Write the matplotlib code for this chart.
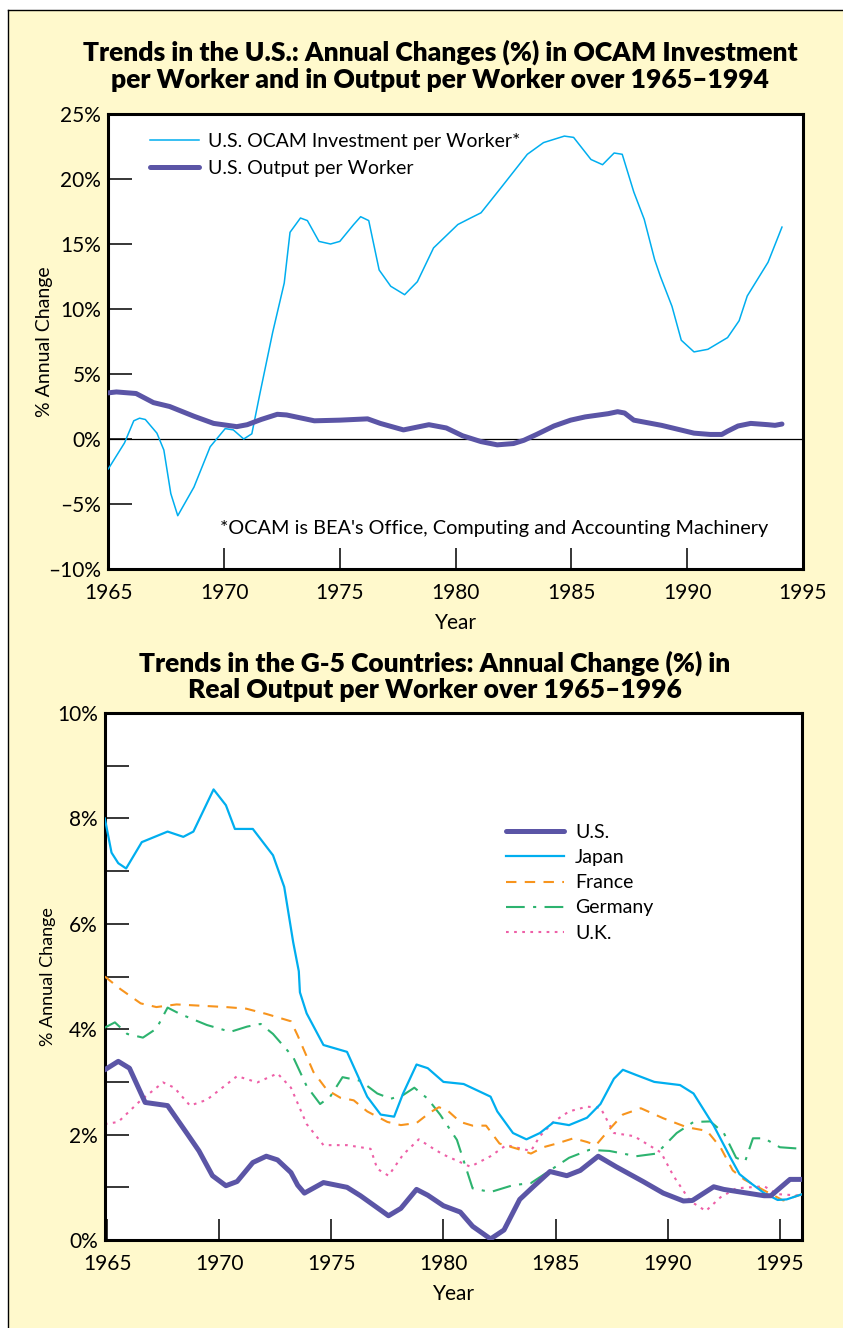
import matplotlib
matplotlib.use('Agg')
import matplotlib.pyplot as plt
from matplotlib.patches import Rectangle
from matplotlib.lines import Line2D

plt.rcParams['font.family'] = ['Lato', 'DejaVu Sans']

# ── Top chart data: U.S. annual changes (%) ───────────────────────────────────
ocam_years = [1965.0, 1965.7, 1966.1, 1966.35, 1966.6, 1967.1, 1967.4, 1967.7,
              1968.0, 1968.7, 1969.4, 1970.05, 1970.4, 1970.85, 1971.2, 1971.55,
              1972.1, 1972.6, 1972.85, 1973.3, 1973.6, 1974.1, 1974.6, 1975.0,
              1975.6, 1975.9, 1976.25, 1976.7, 1977.2, 1977.8, 1978.35, 1979.05,
              1980.1, 1980.65, 1981.1, 1981.95, 1983.1, 1983.8, 1984.7, 1985.1,
              1985.85, 1986.35, 1986.85, 1987.2, 1987.7, 1988.15, 1988.6, 1988.85,
              1989.35, 1989.75, 1990.3, 1990.9, 1991.75, 1992.25, 1992.6, 1993.5,
              1994.1]
ocam_vals = [-2.3, -0.3, 1.4, 1.6, 1.5, 0.45, -0.85, -4.2,
             -5.9, -3.7, -0.6, 0.8, 0.7, 0.0, 0.4, 3.5,
             8.2, 12.0, 15.9, 17.0, 16.8, 15.2, 15.0, 15.2,
             16.5, 17.1, 16.8, 13.0, 11.75, 11.1, 12.1, 14.7,
             16.5, 17.0, 17.4, 19.3, 21.9, 22.8, 23.3, 23.2,
             21.5, 21.1, 22.0, 21.9, 19.0, 16.9, 13.8, 12.5,
             10.2, 7.6, 6.7, 6.9, 7.8, 9.1, 11.0, 13.6,
             16.3]

output_years = [1965.0, 1965.35, 1966.2, 1966.95, 1967.65, 1968.7, 1969.55, 1970.55,
                1971.0, 1971.6, 1972.3, 1972.7, 1973.9, 1975.0, 1976.2, 1976.75,
                1977.75, 1978.85, 1979.6, 1980.3, 1981.1, 1981.8, 1982.5, 1982.95,
                1983.5, 1984.25, 1984.97, 1985.6, 1986.2, 1986.6, 1987.0, 1987.3,
                1987.7, 1988.9, 1990.3, 1991.0, 1991.5, 1991.75, 1992.2, 1992.75,
                1993.5, 1993.8, 1994.1]
output_vals = [3.55, 3.62, 3.5, 2.8, 2.5, 1.75, 1.2, 0.95,
               1.1, 1.5, 1.9, 1.85, 1.4, 1.45, 1.55, 1.2,
               0.7, 1.1, 0.85, 0.25, -0.2, -0.45, -0.35, -0.1,
               0.35, 1.0, 1.45, 1.7, 1.85, 1.95, 2.1, 2.0,
               1.45, 1.05, 0.45, 0.35, 0.35, 0.6, 1.0, 1.2,
               1.1, 1.05, 1.15]

top_yticks = [-10, -5, 0, 5, 10, 15, 20, 25]
top_ylabels = ['\u201310%', '\u20135%', '0%', '5%', '10%', '15%', '20%', '25%']
top_xticks = [1965, 1970, 1975, 1980, 1985, 1990, 1995]

# ── Bottom chart data: G-5 real output per worker (%) ─────────────────────────
us_years = [1964.9, 1965.5, 1966.0, 1966.7, 1967.7, 1968.6, 1969.1, 1969.7,
            1970.3, 1970.8, 1971.5, 1972.1, 1972.6, 1973.2, 1973.5, 1973.8,
            1974.65, 1975.7, 1976.3, 1977.55, 1978.1, 1978.8, 1979.3, 1980.0,
            1980.75, 1981.3, 1982.1, 1982.7, 1983.4, 1984.0, 1984.75, 1985.5,
            1986.1, 1986.9, 1987.7, 1988.9, 1989.8, 1990.7, 1991.1, 1992.05,
            1992.5, 1994.3, 1994.6, 1995.45, 1996.0]
us_vals = [3.23, 3.39, 3.26, 2.61, 2.55, 2.0, 1.69, 1.22,
           1.03, 1.11, 1.47, 1.59, 1.52, 1.28, 1.04, 0.89,
           1.09, 1.0, 0.84, 0.46, 0.6, 0.96, 0.85, 0.65,
           0.53, 0.26, 0.02, 0.19, 0.77, 1.01, 1.3, 1.22,
           1.32, 1.59, 1.39, 1.11, 0.89, 0.74, 0.75, 1.01,
           0.96, 0.84, 0.84, 1.15, 1.15]

japan_years = [1964.9, 1965.2, 1965.5, 1965.85, 1966.55, 1967.7, 1968.4, 1968.85,
               1969.75, 1970.3, 1970.7, 1971.5, 1972.4, 1972.9, 1973.3, 1973.55,
               1973.6, 1973.9, 1974.65, 1975.7, 1976.6, 1977.2, 1977.8, 1978.2,
               1978.8, 1979.3, 1980.0, 1980.9, 1982.1, 1982.4, 1983.1, 1983.7,
               1984.3, 1984.9, 1985.6, 1986.4, 1987.0, 1987.6, 1988.0, 1988.6,
               1989.4, 1990.55, 1991.15, 1992.05, 1992.8, 1993.2, 1993.7, 1994.3,
               1994.9, 1995.3, 1996.0]
japan_vals = [8.0, 7.35, 7.15, 7.05, 7.55, 7.75, 7.65, 7.75,
              8.55, 8.25, 7.8, 7.8, 7.3, 6.7, 5.65, 5.1,
              4.7, 4.3, 3.7, 3.57, 2.72, 2.38, 2.34, 2.78,
              3.33, 3.26, 3.0, 2.96, 2.72, 2.44, 2.03, 1.91,
              2.03, 2.23, 2.18, 2.32, 2.58, 3.06, 3.23, 3.13,
              3.0, 2.94, 2.78, 2.17, 1.56, 1.25, 1.08, 0.89,
              0.76, 0.77, 0.87]

france_years = [1964.9, 1965.6, 1966.5, 1967.2, 1968.1, 1970.3, 1971.2, 1972.1,
                1973.2, 1973.5, 1974.2, 1974.8, 1975.4, 1976.0, 1976.6, 1977.5,
                1978.1, 1978.8, 1979.4, 1979.8, 1980.2, 1980.75, 1981.3, 1981.9,
                1982.5, 1983.3, 1983.9, 1984.45, 1985.05, 1985.8, 1986.4, 1986.8,
                1987.4, 1988.0, 1988.8, 1989.8, 1990.85, 1991.75, 1992.35, 1992.9,
                1993.4, 1994.3, 1995.15, 1996.0]
france_vals = [5.0, 4.76, 4.49, 4.42, 4.47, 4.42, 4.39, 4.29,
               4.15, 3.88, 3.19, 2.85, 2.7, 2.65, 2.44, 2.24,
               2.18, 2.22, 2.42, 2.52, 2.45, 2.24, 2.17, 2.17,
               1.83, 1.73, 1.64, 1.76, 1.83, 1.93, 1.86, 1.8,
               2.1, 2.38, 2.5, 2.31, 2.14, 2.07, 1.76, 1.32,
               1.15, 0.94, 0.75, 0.87]

germany_years = [1964.9, 1965.35, 1965.9, 1966.6, 1967.2, 1967.7, 1968.25, 1969.45,
                 1970.5, 1971.25, 1971.85, 1972.4, 1973.3, 1973.9, 1974.5, 1974.95,
                 1975.5, 1976.3, 1977.05, 1977.65, 1978.2, 1978.7, 1979.3, 1979.85,
                 1980.6, 1981.3, 1982.1, 1983.1, 1983.9, 1984.75, 1985.6, 1986.5,
                 1987.4, 1988.6, 1989.5, 1990.4, 1991.15, 1991.9, 1992.5, 1993.05,
                 1993.45, 1993.8, 1994.3, 1995.0, 1996.0]
germany_vals = [4.03, 4.13, 3.91, 3.84, 4.01, 4.41, 4.29, 4.08,
                3.95, 4.05, 4.1, 3.91, 3.47, 2.92, 2.58, 2.72,
                3.09, 3.02, 2.78, 2.68, 2.75, 2.89, 2.68, 2.38,
                1.9, 0.98, 0.91, 1.04, 1.08, 1.32, 1.56, 1.71,
                1.69, 1.59, 1.64, 2.03, 2.24, 2.25, 2.03, 1.56,
                1.49, 1.93, 1.93, 1.76, 1.73]

uk_years = [1964.9, 1965.5, 1966.5, 1967.5, 1968.0, 1968.7, 1969.45, 1970.8,
            1971.7, 1972.6, 1973.2, 1973.9, 1974.65, 1975.7, 1976.75, 1977.05,
            1977.55, 1978.2, 1978.9, 1979.6, 1980.0, 1981.2, 1982.1, 1982.8,
            1983.9, 1984.3, 1984.9, 1985.6, 1986.4, 1987.0, 1987.6, 1988.5,
            1989.7, 1990.25, 1991.0, 1991.7, 1992.35, 1993.05, 1994.3, 1994.9,
            1996.0]
uk_vals = [2.2, 2.24, 2.65, 2.99, 2.89, 2.55, 2.66, 3.11,
           2.99, 3.16, 2.89, 2.2, 1.8, 1.8, 1.73, 1.35,
           1.22, 1.62, 1.91, 1.72, 1.62, 1.39, 1.59, 1.8,
           1.69, 1.97, 2.24, 2.44, 2.53, 2.51, 2.03, 1.97,
           1.66, 1.22, 0.74, 0.55, 0.81, 0.98, 1.02, 0.87,
           0.84]

bot_yticks = [0, 2, 4, 6, 8, 10]
bot_ylabels = ['0%', '2%', '4%', '6%', '8%', '10%']
bot_minor = [1, 3, 5, 7, 9]
bot_xticks = [1965, 1970, 1975, 1980, 1985, 1990, 1995]

# ── Style ─────────────────────────────────────────────────────────────────────
BG = '#FFF9CC'
CYAN = '#00AEEF'
PURPLE = '#5B55A6'
ORANGE = '#F7941D'
GREEN = '#2DB36F'
PINK = '#EE5FA7'
W, H = 843, 1328
TITLE_KW = dict(fontsize=19, fontweight='heavy', ha='center', va='center')

fig = plt.figure(figsize=(W / 100, H / 100), dpi=100, facecolor='white')
fig.add_artist(Rectangle((8 / W, 0), 1, 1 - 10 / H, transform=fig.transFigure,
                         facecolor=BG, edgecolor='none', zorder=-10))
fig.add_artist(Line2D([8 / W, 8 / W], [0, 1 - 10 / H], transform=fig.transFigure,
                      color='black', lw=1))
fig.add_artist(Line2D([8 / W, 1], [1 - 10 / H, 1 - 10 / H], transform=fig.transFigure,
                      color='black', lw=1))


def style_axes(ax):
    ax.set_facecolor('white')
    for s in ax.spines.values():
        s.set_linewidth(2.2)
        s.set_color('black')
    ax.tick_params(axis='both', which='both', direction='in', length=15,
                   width=1.1, labelsize=15, colors='black', pad=10,
                   top=False, right=False)
    ax.tick_params(axis='y', which='both', length=17, pad=5)


# ── Top chart ─────────────────────────────────────────────────────────────────
ax1 = fig.add_axes([108.3 / W, 1 - 569 / H, 694.5 / W, 455 / H])
style_axes(ax1)
ax1.axhline(0, color='black', lw=0.9, zorder=1)
ax1.plot(ocam_years, ocam_vals, color=CYAN, lw=1.1, zorder=3,
         label='U.S. OCAM Investment per Worker*')
ax1.plot(output_years, output_vals, color=PURPLE, lw=3.6, zorder=4,
         solid_capstyle='round', solid_joinstyle='round',
         label='U.S. Output per Worker')
ax1.set_xlim(1965, 1995)
ax1.set_ylim(-10, 25)
ax1.set_xticks(top_xticks)
ax1.set_yticks(top_yticks)
ax1.set_yticklabels(top_ylabels)
ax1.set_xlabel('Year', fontsize=15, labelpad=7)
ax1.set_ylabel('% Annual Change', fontsize=14, labelpad=-3)
ax1.text(0.161, -6.85, "*OCAM is BEA's Office, Computing and Accounting Machinery",
         transform=ax1.get_yaxis_transform(), fontsize=14.3, va='center', ha='left')
ax1.legend(loc='upper left', bbox_to_anchor=((150 - 108.3) / 694.5, (569 - 133) / 455),
           frameon=False, fontsize=14, handlelength=2.5, handletextpad=0.5,
           labelspacing=0.5, borderaxespad=0, borderpad=0)

fig.text(440 / W, 1 - 52 / H, 'Trends in the U.S.: Annual Changes (%) in OCAM Investment',
         **TITLE_KW)
fig.text(440 / W, 1 - 80 / H, 'per Worker and in Output per Worker over 1965\u20131994',
         **TITLE_KW)

# ── Bottom chart ──────────────────────────────────────────────────────────────
ax2 = fig.add_axes([104.8 / W, 1 - 1240 / H, 697.5 / W, 527 / H])
style_axes(ax2)
ax2.plot(us_years, us_vals, color=PURPLE, lw=3.6, zorder=6,
         solid_capstyle='round', solid_joinstyle='round', label='U.S.')
ax2.plot(japan_years, japan_vals, color=CYAN, lw=1.6, zorder=5, label='Japan')
ax2.plot(france_years, france_vals, color=ORANGE, lw=1.5, zorder=4,
         dashes=(5, 4), label='France')
ax2.plot(germany_years, germany_vals, color=GREEN, lw=1.5, zorder=3,
         dashes=(9, 4, 1.5, 4), label='Germany')
ax2.plot(uk_years, uk_vals, color=PINK, lw=1.5, zorder=2,
         dashes=(1.3, 2.6), label='U.K.')
ax2.set_xlim(1964.9, 1996)
ax2.set_ylim(0, 10)
ax2.set_xticks(bot_xticks)
ax2.set_yticks(bot_yticks)
ax2.set_yticklabels(bot_ylabels)
ax2.set_yticks(bot_minor, minor=True)
ax2.set_xlabel('Year', fontsize=15, labelpad=7)
ax2.set_ylabel('% Annual Change', fontsize=13, labelpad=1)
ax2.legend(loc='upper left', bbox_to_anchor=((506 - 104.8) / 697.5, (1240 - 824) / 527),
           frameon=False, fontsize=14, handlelength=3.0, handletextpad=0.55,
           labelspacing=0.42, borderaxespad=0, borderpad=0)

fig.text(435 / W, 1 - 663 / H, 'Trends in the G-5 Countries: Annual Change (%) in',
         **TITLE_KW)
fig.text(435 / W, 1 - 690 / H, 'Real Output per Worker over 1965\u20131996',
         **TITLE_KW)

fig.savefig('out.png', dpi=100, facecolor=fig.get_facecolor())
